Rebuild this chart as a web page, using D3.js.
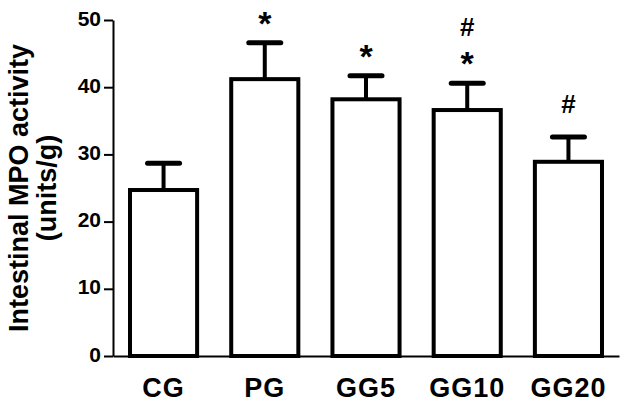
<!DOCTYPE html>
<html>
<head>
<meta charset="utf-8">
<script src="https://cdn.jsdelivr.net/npm/d3@7"></script>
<style>
  body { margin: 0; background: #fff; }
  text { font-family: "Liberation Sans", Arial, sans-serif; font-weight: bold; fill: #000; }
</style>
</head>
<body>
<div class="chart"></div>
<script>
// Data
const groups = ['CG', 'PG', 'GG5', 'GG10', 'GG20'];
const means = [24.7, 41.2, 38.2, 36.6, 28.9];
const sems = [4.0, 5.4, 3.5, 4.0, 3.7];
const marks = [[], ['*'], ['*'], ['*', '#'], ['#']];
const yTicks = [0, 10, 20, 30, 40, 50];

const W = 623, H = 405;

const svg = d3.select('.chart')
  .append('svg')
  .attr('width', W)
  .attr('height', H);

// Scales
const x = d3.scaleBand()
  .domain(groups)
  .range([113, 619])
  .paddingInner(0.337)
  .paddingOuter(0.168);

const y = d3.scaleLinear()
  .domain([0, 50])
  .range([356, 20]);

const data = groups.map((g, i) => ({ group: g, mean: means[i], sem: sems[i], marks: marks[i] }));

// Bars
svg.selectAll('.bar')
  .data(data)
  .enter()
  .append('rect')
  .attr('class', 'bar')
  .attr('x', d => x(d.group))
  .attr('y', d => y(d.mean))
  .attr('width', x.bandwidth())
  .attr('height', d => y(0) - y(d.mean))
  .attr('fill', '#fff')
  .attr('stroke', '#000')
  .attr('stroke-width', 4);

// Error bars (upper only)
const cx = d => x(d.group) + x.bandwidth() / 2;

svg.selectAll('.err')
  .data(data)
  .enter()
  .append('line')
  .attr('class', 'err')
  .attr('x1', cx)
  .attr('x2', cx)
  .attr('y1', d => y(d.mean))
  .attr('y2', d => y(d.mean + d.sem))
  .attr('stroke', '#000')
  .attr('stroke-width', 4);

svg.selectAll('.cap')
  .data(data)
  .enter()
  .append('line')
  .attr('class', 'cap')
  .attr('x1', d => cx(d) - 16)
  .attr('x2', d => cx(d) + 16)
  .attr('y1', d => y(d.mean + d.sem))
  .attr('y2', d => y(d.mean + d.sem))
  .attr('stroke', '#000')
  .attr('stroke-width', 5)
  .attr('stroke-linecap', 'round');

// Significance marks stacked above the caps
const firstOffset = { '*': 8, '#': 24 };
data.forEach(d => {
  d.marks.forEach((m, i) => {
    svg.append('text')
      .attr('x', cx(d))
      .attr('y', y(d.mean + d.sem) - (i === 0 ? firstOffset[m] : 47))
      .attr('text-anchor', 'middle')
      .style('font-size', m === '*' ? '34px' : '26px')
      .text(m);
  });
});

// Axes
const yAxis = svg.append('g')
  .attr('class', 'axis y-axis')
  .attr('transform', 'translate(113,0)')
  .call(d3.axisLeft(y).tickValues(yTicks).tickSize(9).tickSizeOuter(0).tickPadding(3));

yAxis.selectAll('path, line').attr('stroke', '#000').attr('stroke-width', 2);
yAxis.selectAll('text')
  .attr('dy', '0.24em')
  .style('font-size', '21px')
  .style('font-family', '"Liberation Sans", Arial, sans-serif')
  .style('font-weight', 'bold');

const xAxis = svg.append('g')
  .attr('class', 'axis x-axis')
  .attr('transform', `translate(0,${y(0)})`)
  .call(d3.axisBottom(x).tickSize(0).tickSizeOuter(0).tickPadding(22));

xAxis.selectAll('path').attr('stroke', '#000').attr('stroke-width', 2);
xAxis.selectAll('text')
  .style('font-size', '27px')
  .style('letter-spacing', '1px')
  .style('font-family', '"Liberation Sans", Arial, sans-serif')
  .style('font-weight', 'bold');

// Y-axis label (two lines)
const midY = (y(0) + y(50)) / 2;
svg.append('text')
  .attr('transform', `translate(28,${midY}) rotate(-90)`)
  .attr('text-anchor', 'middle')
  .style('font-size', '27px')
  .text('Intestinal MPO activity');

svg.append('text')
  .attr('transform', `translate(56,${midY}) rotate(-90)`)
  .attr('text-anchor', 'middle')
  .style('font-size', '27px')
  .text('(units/g)');
</script>
</body>
</html>
